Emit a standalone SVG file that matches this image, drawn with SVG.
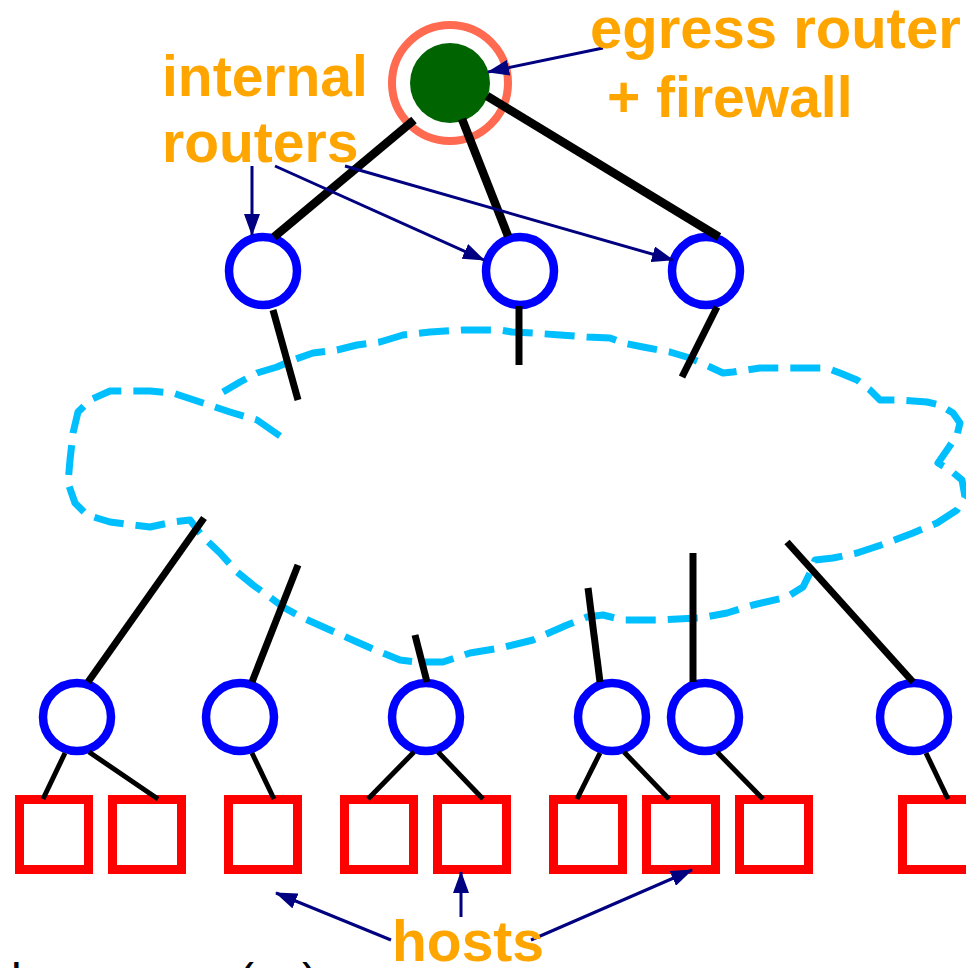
<svg xmlns="http://www.w3.org/2000/svg" width="966" height="968" viewBox="0 0 966 968">
<style>
.lbl{font-family:"Liberation Sans",Arial,sans-serif;font-weight:bold;font-size:57px;fill:#FFA500}
.rtr{fill:#fff;stroke:#0000FF;stroke-width:8.5}
.host{fill:#fff;stroke:#FF0000;stroke-width:9}
.thick{stroke:#000;stroke-width:8.5;fill:none}
.mid{stroke:#000;stroke-width:7;fill:none}
.thin{stroke:#000;stroke-width:5;fill:none}
.ptr{stroke:#000080;stroke-width:3;fill:none;marker-end:url(#ah)}
.cloud{fill:none;stroke:#00BFFF;stroke-width:7;stroke-dasharray:30 12;stroke-linejoin:round}
</style>
<defs>
<marker id="ah" markerUnits="userSpaceOnUse" markerWidth="22" markerHeight="16" refX="21" refY="8" orient="auto">
<path d="M0,0 L22,8 L0,16 z" fill="#000080"/>
</marker>
</defs>
<rect width="966" height="968" fill="#fff"/>

<g id="cloud">
<polyline class="cloud" points="280,436 257,420 230,412 203,403 173,393 150,391 110,391 90,400 78,412 73,433 70,460 68,483 75,503 87,515 110,522 133,525 150,527 173,522 190,520 203,537 220,553 237,572 253,585 267,595 283,607 303,618 330,630 357,642 380,652 400,660 417,662 443,662 470,653 500,648 533,640 567,625 587,617 603,615 623,620 660,620 700,618 727,613 753,605 787,597 803,587 810,573 815,560 833,558 857,553 887,543 913,533 937,523 957,510 965,497 962,480 950,470 938,463 947,450 957,435 960,423 953,413 940,405 927,402 900,400 880,400 870,390 857,380 840,373 827,368 800,368 760,368 733,372 723,373 710,367 690,358 670,352 643,347 623,343 610,338 587,337 560,335 533,333 512,332 500,330 463,330 430,332 403,335 380,342 357,345 337,350 313,353 293,360 277,367 257,373 240,382 223,392"/>
</g>

<g id="egress">
<circle cx="450" cy="83" r="58" fill="#fff" stroke="#FF6A50" stroke-width="8"/>
<circle cx="450" cy="83" r="40" fill="#006400"/>
</g>

<g id="r-top-1"><circle class="rtr" cx="263" cy="271" r="34"/></g>
<g id="r-top-2"><circle class="rtr" cx="520" cy="271" r="34"/></g>
<g id="r-top-3"><circle class="rtr" cx="706" cy="271" r="34"/></g>

<g id="r-bot-1"><circle class="rtr" cx="77" cy="717" r="34"/></g>
<g id="r-bot-2"><circle class="rtr" cx="240" cy="717" r="34"/></g>
<g id="r-bot-3"><circle class="rtr" cx="426" cy="717" r="34"/></g>
<g id="r-bot-4"><circle class="rtr" cx="612" cy="717" r="34"/></g>
<g id="r-bot-5"><circle class="rtr" cx="705" cy="717" r="34"/></g>
<g id="r-bot-6"><circle class="rtr" cx="914" cy="717" r="34"/></g>

<g id="h1"><rect class="host" x="19.5" y="799.5" width="69" height="70"/></g>
<g id="h2"><rect class="host" x="112.5" y="799.5" width="69" height="70"/></g>
<g id="h3"><rect class="host" x="228.5" y="799.5" width="69" height="70"/></g>
<g id="h4"><rect class="host" x="344.5" y="799.5" width="69" height="70"/></g>
<g id="h5"><rect class="host" x="437.5" y="799.5" width="69" height="70"/></g>
<g id="h6"><rect class="host" x="553.5" y="799.5" width="69" height="70"/></g>
<g id="h7"><rect class="host" x="646.5" y="799.5" width="69" height="70"/></g>
<g id="h8"><rect class="host" x="739.5" y="799.5" width="69" height="70"/></g>
<g id="h9"><rect class="host" x="902.5" y="799.5" width="69" height="70"/></g>

<g id="connectors">
<line class="thick" x1="414" y1="120" x2="274" y2="237"/>
<line class="thick" x1="462" y1="119" x2="508" y2="236"/>
<line class="thick" x1="487" y1="96" x2="719" y2="237"/>

<line class="mid" x1="273" y1="310" x2="298" y2="400"/>
<line class="mid" x1="519" y1="306" x2="519" y2="365"/>
<line class="mid" x1="717" y1="307" x2="682" y2="377"/>

<line class="mid" x1="204" y1="518" x2="88" y2="682"/>
<line class="mid" x1="298" y1="565" x2="252" y2="682"/>
<line class="mid" x1="415" y1="635" x2="427" y2="682"/>
<line class="mid" x1="588" y1="588" x2="600" y2="682"/>
<line class="mid" x1="693" y1="553" x2="693" y2="682"/>
<line class="mid" x1="787" y1="542" x2="913" y2="682"/>

<line class="thin" x1="65" y1="753" x2="43" y2="799"/>
<line class="thin" x1="89" y1="752" x2="158" y2="799"/>
<line class="thin" x1="252" y1="753" x2="274" y2="799"/>
<line class="thin" x1="414" y1="752" x2="368" y2="799"/>
<line class="thin" x1="438" y1="752" x2="483" y2="799"/>
<line class="thin" x1="600" y1="753" x2="577" y2="799"/>
<line class="thin" x1="624" y1="752" x2="669" y2="799"/>
<line class="thin" x1="717" y1="752" x2="763" y2="799"/>
<line class="thin" x1="926" y1="753" x2="948" y2="799"/>

<line class="ptr" x1="603" y1="48" x2="488" y2="72"/>
<line class="ptr" x1="252" y1="166" x2="252" y2="235"/>
<line class="ptr" x1="275" y1="166" x2="484" y2="260"/>
<line class="ptr" x1="345" y1="166" x2="673" y2="260"/>
<line class="ptr" x1="391" y1="940" x2="276" y2="893"/>
<line class="ptr" x1="461" y1="917" x2="461" y2="872"/>
<line class="ptr" x1="531" y1="940" x2="692" y2="870"/>
</g>

<g id="labels">
<text class="lbl" x="590" y="48" style="font-size:58px">egress router</text>
<text class="lbl" x="607" y="117">+ firewall</text>
<text class="lbl" x="162" y="96">internal</text>
<text class="lbl" x="162" y="162">routers</text>
<text class="lbl" x="392" y="961">hosts</text>
<text font-family="Liberation Sans, Arial, sans-serif" font-size="48" fill="#000" y="997"><tspan x="11">l</tspan><tspan x="238">(</tspan><tspan x="302">)</tspan></text>
</g>
</svg>
